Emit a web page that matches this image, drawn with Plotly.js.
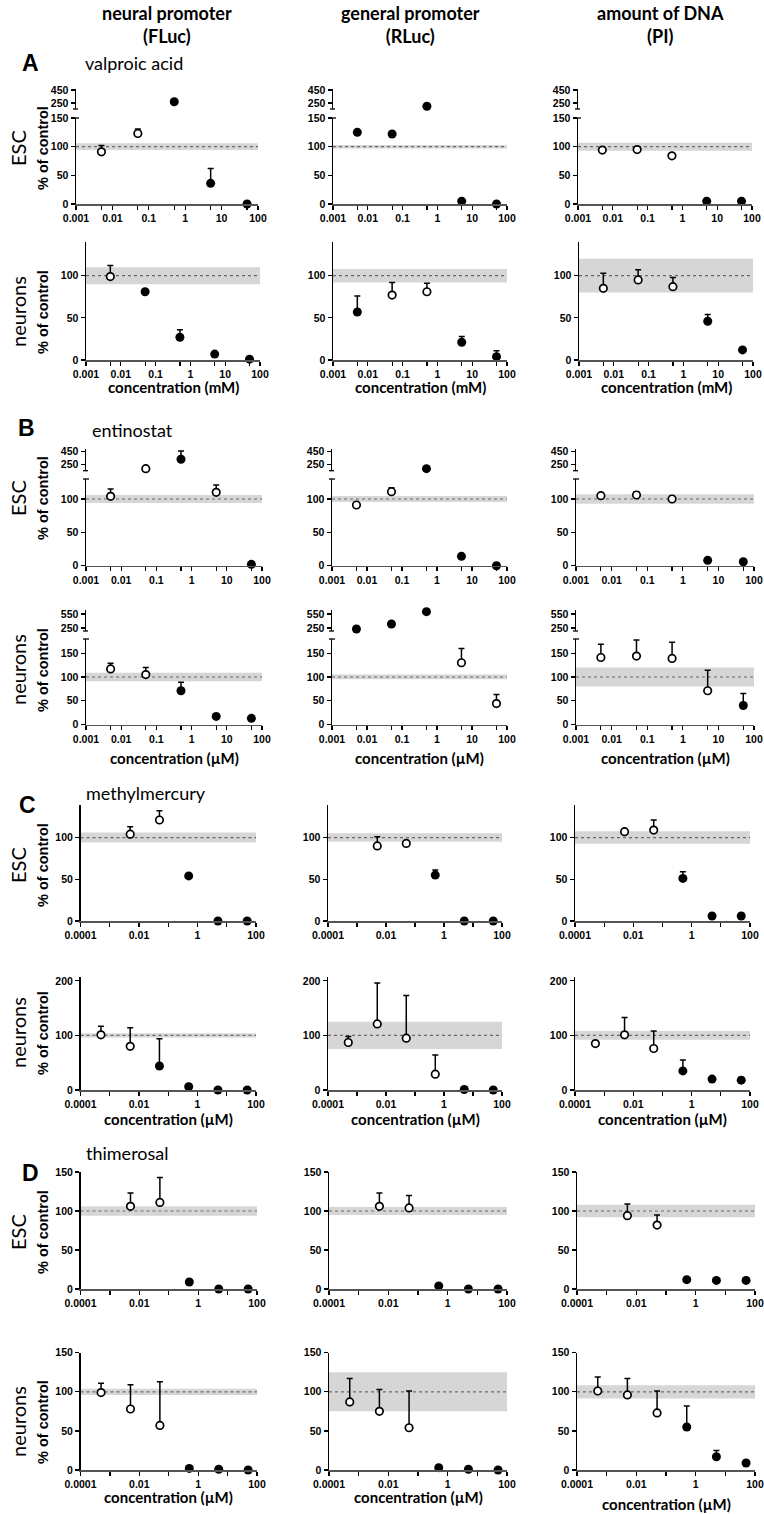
<!DOCTYPE html>
<html>
<head>
<meta charset="utf-8">
<script src="https://cdn.plot.ly/plotly-3.0.1.min.js"></script>
<style>body{margin:0;background:#fff}</style>
</head>
<body>
<div id="fig" style="width:764px;height:1514px"></div>
<script>
// concentrations (x values)
var concVPA = [0.005, 0.05, 0.5, 5, 50];          // mM
var concENT = [0.005, 0.05, 0.5, 5, 50];          // µM
var concMeHgEsc = [0.005, 0.05, 0.5, 5, 50];      // µM
var concMeHgNeu = [0.0005, 0.005, 0.05, 0.5, 5, 50];
var concThiEsc = [0.005, 0.05, 0.5, 5, 50];
var concThiNeu = [0.0005, 0.005, 0.05, 0.5, 5, 50];

// labels
var colTitles = ['neural promoter<br>(FLuc)', 'general promoter<br>(RLuc)', 'amount of DNA<br>(PI)'];
var letters = ['A', 'B', 'C', 'D'];
var drugs = ['valproic acid', 'entinostat', 'methylmercury', 'thimerosal'];
var cells = ['ESC', 'neurons'];
var units = ['mM', 'µM', 'µM', 'µM'];
var xTicksAB = [0.001, 0.005, 0.01, 0.05, 0.1, 0.5, 1, 5, 10, 50, 100];
var xTextAB = ['0.001', '', '0.01', '', '0.1', '', '1', '', '10', '', '100'];
var xTicksCD = [0.0001, 0.001, 0.01, 0.1, 1, 10, 100];
var xTextCD = ['0.0001', '', '0.01', '', '1', '', '100'];

// % of control, one list per column (FLuc, RLuc, PI); 1 = filled marker
var vpaEscMean = [[91, 123, 270, 36, 0], [125, 122, 200, 5, 0], [94, 95, 84, 5, 5]];
var vpaEscErr = [[11, 8, 0, 26, 0], [0, 0, 0, 0, 0], [0, 0, 0, 0, 0]];
var vpaEscFill = [[0, 0, 1, 1, 1], [1, 1, 1, 1, 1], [0, 0, 0, 1, 1]];
var vpaEscBand = [6, 3, 7];

var vpaNeuMean = [[99, 81, 27, 7, 1], [57, 77, 81, 21, 4], [85, 95, 87, 46, 12]];
var vpaNeuErr = [[13, 0, 9, 0, 0], [19, 15, 10, 7, 7], [18, 12, 11, 8, 0]];
var vpaNeuFill = [[0, 1, 1, 1, 1], [1, 0, 0, 1, 1], [0, 0, 0, 1, 1]];
var vpaNeuBand = [10, 8, 20];

var entEscMean = [[104, 180, 330, 110, 2], [91, 111, 180, 14, 0], [105, 106, 100, 8, 6]];
var entEscErr = [[11, 0, 130, 11, 0], [0, 6, 0, 0, 0], [0, 5, 4, 0, 0]];
var entEscFill = [[0, 0, 1, 0, 1], [0, 0, 1, 1, 1], [0, 0, 0, 1, 1]];
var entEscBand = [6, 4.5, 7];

var entNeuMean = [[117, 105, 71, 17, 13], [230, 336, 600, 130, 44], [141, 144, 139, 71, 40]];
var entNeuErr = [[12, 15, 18, 0, 0], [0, 0, 0, 30, 19], [28, 34, 34, 43, 25]];
var entNeuFill = [[0, 0, 1, 1, 1], [1, 1, 1, 0, 0], [0, 0, 0, 0, 1]];
var entNeuBand = [9, 5, 20];

var mehgEscMean = [[104, 121, 54, 0, 0], [90, 93, 55, 0, 0], [107, 109, 51, 6, 6]];
var mehgEscErr = [[9, 11, 2, 0, 0], [11, 0, 6, 0, 0], [0, 12, 8, 0, 0]];
var mehgEscFill = [[0, 0, 1, 1, 1], [0, 0, 1, 1, 1], [0, 0, 1, 1, 1]];
var mehgEscBand = [6, 5, 7.5];

var mehgNeuMean = [[101, 80, 44, 6, 0, 0], [87, 121, 95, 29, 1, 0], [85, 101, 76, 35, 20, 18]];
var mehgNeuErr = [[16, 34, 50, 5, 0, 0], [11, 75, 78, 35, 0, 0], [0, 32, 32, 20, 0, 5]];
var mehgNeuFill = [[0, 0, 1, 1, 1, 1], [0, 0, 0, 0, 1, 1], [0, 0, 0, 1, 1, 1]];
var mehgNeuBand = [4, 25, 8];

var thiEscMean = [[106, 111, 9, 0, 0], [106, 104, 4, 0, 0], [94, 82, 12, 11, 11]];
var thiEscErr = [[17, 32, 0, 0, 0], [17, 16, 0, 0, 0], [15, 13, 0, 0, 0]];
var thiEscFill = [[0, 0, 1, 1, 1], [0, 0, 1, 1, 1], [0, 0, 1, 1, 1]];
var thiEscBand = [6, 5, 8];

var thiNeuMean = [[99, 78, 57, 2, 1, 0], [87, 75, 54, 3, 1, 0], [101, 96, 73, 55, 17, 9]];
var thiNeuErr = [[12, 31, 56, 0, 0, 0], [30, 28, 47, 0, 0, 0], [18, 21, 28, 27, 8, 0]];
var thiNeuFill = [[0, 0, 0, 1, 1, 1], [0, 0, 0, 1, 1, 1], [0, 0, 0, 1, 1, 1]];
var thiNeuBand = [4, 25, 8.5];

const W = 764, H = 1514;
const px = v => v / W;
const py = v => 1 - v / H;

const TICK_FONT = {family: 'Liberation Sans Narrow, Arial Narrow, Liberation Sans, Arial, sans-serif', size: 10.5, color: '#000', weight: 'bold'};
const LABEL_FONT = 'Lato, Carlito, Open Sans, sans-serif';

const colsAB1 = [[76, 258], [333, 507], [578, 752]];
const colsAB2 = [[86, 260], [333, 507], [579, 753]];
const colsB = [[86, 262], [332, 507], [576, 754]];
const colsC = [[80.5, 256], [328, 502], [575, 750]];
const colsD = [[80.5, 257], [329, 507], [577, 755]];

// panel rows: data + pixel geometry
var rows = [
    {g: 0, c: 0, conc: concVPA, mean: vpaEscMean, err: vpaEscErr, fill: vpaEscFill, band: vpaEscBand,
        zero: 204, topPx: 118, top: 150, yticks: [0, 50, 100, 150], labelY: 148,
        upper: {bot: 109, top: 89, lo: 158, hi: 465, ticks: [250, 450]}, cols: colsAB1, xr: [-3, 2], tv: xTicksAB, tt: xTextAB},
    {g: 0, c: 1, conc: concVPA, mean: vpaNeuMean, err: vpaNeuErr, fill: vpaNeuFill, band: vpaNeuBand,
        zero: 360, topPx: 242, top: 140, yticks: [0, 50, 100], labelY: 312, xTitleY: [387, 387, 387],
        cols: colsAB2, xr: [-3, 2], tv: xTicksAB, tt: xTextAB},
    {g: 1, c: 0, conc: concENT, mean: entEscMean, err: entEscErr, fill: entEscFill, band: entEscBand,
        zero: 565.7, topPx: 479, top: 130, yticks: [0, 50, 100], labelY: 498,
        upper: {bot: 470.7, top: 449, lo: 148, hi: 493, ticks: [250, 450]}, cols: colsB, xr: [-3, 2], tv: xTicksAB, tt: xTextAB},
    {g: 1, c: 1, conc: concENT, mean: entNeuMean, err: entNeuErr, fill: entNeuFill, band: entNeuBand,
        zero: 724.5, topPx: 639, top: 180, yticks: [0, 50, 100, 150], labelY: 670, xTitleY: [758, 758, 758],
        upper: {bot: 631, top: 610, lo: 186, hi: 636, ticks: [250, 550]}, cols: colsB, xr: [-3, 2], tv: xTicksAB, tt: xTextAB},
    {g: 2, c: 0, conc: concMeHgEsc, mean: mehgEscMean, err: mehgEscErr, fill: mehgEscFill, band: mehgEscBand,
        zero: 921, topPx: 805, top: 139, yticks: [0, 50, 100], labelY: 865,
        cols: colsC, xr: [-4, 2], tv: xTicksCD, tt: xTextCD},
    {g: 2, c: 1, conc: concMeHgNeu, mean: mehgNeuMean, err: mehgNeuErr, fill: mehgNeuFill, band: mehgNeuBand,
        zero: 1090, topPx: 977, top: 207, yticks: [0, 100, 200], labelY: 1033, xTitleY: [1119, 1119, 1119],
        cols: colsC, xr: [-4, 2], tv: xTicksCD, tt: xTextCD},
    {g: 3, c: 0, conc: concThiEsc, mean: thiEscMean, err: thiEscErr, fill: thiEscFill, band: thiEscBand,
        zero: 1289, topPx: 1172, top: 150, yticks: [0, 50, 100, 150], labelY: 1232,
        cols: colsD, xr: [-4, 2], tv: xTicksCD, tt: xTextCD},
    {g: 3, c: 1, conc: concThiNeu, mean: thiNeuMean, err: thiNeuErr, fill: thiNeuFill, band: thiNeuBand,
        zero: 1470, topPx: 1352.7, top: 150, yticks: [0, 50, 100, 150], labelY: 1422, xTitleY: [1497, 1497, 1504],
        cols: colsD, xr: [-4, 2], tv: xTicksCD, tt: xTextCD}
];

var traces = [];
var shapes = [];
var annotations = [];
var layout = {
    width: W, height: H,
    margin: {l: 0, r: 0, t: 0, b: 0},
    paper_bgcolor: '#fff', plot_bgcolor: 'rgba(0,0,0,0)',
    showlegend: false
};

function ann(text, x, y, font, opts) {
    annotations.push(Object.assign({
        text: text, x: px(x), y: py(y), xref: 'paper', yref: 'paper',
        showarrow: false, xanchor: 'center', yanchor: 'middle', font: font
    }, opts || {}));
}

function yAxis(range, dom, xid, ticks) {
    return {
        range: range, domain: dom, anchor: 'x' + xid,
        showline: true, linecolor: '#000', linewidth: 1.5,
        ticks: 'outside', ticklen: 4, tickwidth: 1.2, tickcolor: '#000',
        tickvals: ticks, tickfont: TICK_FONT,
        showgrid: false, zeroline: false, fixedrange: true
    };
}

var nx = 0, ny = 0;
rows.forEach(function (r) {
    r.cols.forEach(function (c, ci) {
        nx++;
        var xid = nx === 1 ? '' : nx;
        ny++;
        var yLow = ny === 1 ? '' : ny;
        var yUp = null;
        if (r.upper) { ny++; yUp = ny; }

        layout['xaxis' + xid] = {
            type: 'log', range: r.xr, domain: [px(c[0]), px(c[1])], anchor: 'y' + yLow,
            showline: true, linecolor: '#555', linewidth: 1.5,
            ticks: 'outside', ticklen: 4, tickwidth: 1.2, tickcolor: '#000',
            tickvals: r.tv, ticktext: r.tt, tickfont: TICK_FONT,
            showgrid: false, zeroline: false, fixedrange: true
        };
        layout['yaxis' + yLow] = yAxis([0, r.top], [py(r.zero), py(r.topPx)], xid, r.yticks);
        if (yUp) {
            layout['yaxis' + yUp] = yAxis([r.upper.lo, r.upper.hi], [py(r.upper.bot), py(r.upper.top)], xid, r.upper.ticks);
            // empty trace so the upper segment is drawn even without points
            traces.push({type: 'scatter', mode: 'markers', x: [1], y: [r.upper.lo],
                xaxis: 'x' + xid, yaxis: 'y' + yUp, marker: {opacity: 0}, hoverinfo: 'skip', showlegend: false});
            // break marks
            shapes.push({type: 'line', xref: 'paper', yref: 'paper', x0: px(c[0] - 3), x1: px(c[0] + 3),
                y0: py(r.topPx), y1: py(r.topPx), line: {color: '#000', width: 1.3}});
            shapes.push({type: 'line', xref: 'paper', yref: 'paper', x0: px(c[0] - 3), x1: px(c[0] + 2),
                y0: py(r.upper.bot), y1: py(r.upper.bot), line: {color: '#000', width: 1.3}});
        }

        // control band and 100% line
        shapes.push({type: 'rect', xref: 'x' + xid + ' domain', x0: 0, x1: 1, yref: 'y' + yLow,
            y0: 100 - r.band[ci], y1: 100 + r.band[ci], fillcolor: '#d6d6d6', line: {width: 0}, layer: 'below'});
        shapes.push({type: 'line', xref: 'x' + xid + ' domain', x0: 0, x1: 1, yref: 'y' + yLow,
            y0: 100, y1: 100, line: {color: '#6a6a6a', width: 1.2, dash: 'dot'}, layer: 'below'});

        var groups = {};
        r.conc.forEach(function (x, i) {
            var v = r.mean[ci][i], e = r.err[ci][i], f = r.fill[ci][i];
            var up = !!(r.upper && v > r.top);
            var k = f + '_' + up;
            if (!groups[k]) groups[k] = {x: [], y: [], e: [], f: f, up: up};
            groups[k].x.push(x);
            groups[k].y.push(v);
            groups[k].e.push(e);
        });
        ['1_false', '1_true', '0_false', '0_true'].forEach(function (k) {
            var g = groups[k];
            if (!g) return;
            traces.push({
                type: 'scatter', mode: 'markers', x: g.x, y: g.y,
                xaxis: 'x' + xid, yaxis: 'y' + (g.up ? yUp : yLow),
                cliponaxis: false, hoverinfo: 'skip', showlegend: false,
                marker: {size: g.f ? 9 : 7.5, color: g.f ? '#000' : '#fff',
                    line: {color: '#000', width: g.f ? 0 : 1.7}},
                error_y: {type: 'data', symmetric: false, array: g.e, arrayminus: g.e.map(function () { return 0; }),
                    color: '#000', thickness: 1.5, width: 3, visible: g.e.some(function (v) { return v > 0; })}
            });
        });

        if (r.xTitleY) {
            ann('concentration (' + units[r.g] + ')', (c[0] + c[1]) / 2, r.xTitleY[ci],
                {family: LABEL_FONT, size: 15, color: '#000', weight: 'bold'});
        }
    });

    // row labels
    ann(cells[r.c], 18, r.labelY, {family: LABEL_FONT, size: 20, color: '#000'}, {textangle: -90});
    ann('% of control', 43, r.labelY, {family: 'Liberation Sans, Arial, sans-serif', size: 14.5, color: '#000', weight: 'bold'}, {textangle: -90});
});

// column titles
var colCenters = [167, 410, 660];
colTitles.forEach(function (t, i) {
    ann(t, colCenters[i], 25, {family: LABEL_FONT, size: 18, color: '#000', weight: 'bold'});
});

// panel letters and drug names
var letterPos = [[30, 63], [26, 428], [27, 805], [30, 1173]];
var drugPos = [[83, 63], [90, 430], [84, 793], [84, 1153]];
letters.forEach(function (l, i) {
    ann(l, letterPos[i][0], letterPos[i][1], {family: 'Liberation Sans, Arial, sans-serif', size: 23, color: '#000', weight: 'bold'});
    ann(drugs[i], drugPos[i][0], drugPos[i][1], {family: LABEL_FONT, size: 18, color: '#000'}, {xanchor: 'left'});
});

layout.shapes = shapes;
layout.annotations = annotations;

Plotly.newPlot('fig', traces, layout, {staticPlot: true, displayModeBar: false});
</script>
</body>
</html>
